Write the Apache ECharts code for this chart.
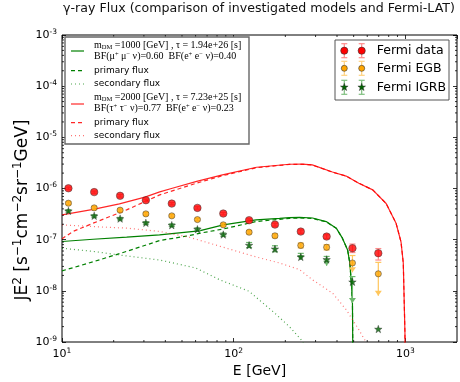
<!DOCTYPE html>
<html>
<head>
<meta charset="utf-8">
<script src="https://cdn.jsdelivr.net/npm/echarts@6/dist/echarts.min.js"></script>
<style>
  html, body { margin: 0; padding: 0; background: #fff; }
  #chart { width: 460px; height: 382px; }
</style>
</head>
<body>
<div id="chart"></div>
<script>
// Fermi-LAT measurements (E in GeV, E^2 J in s^-1 cm^-2 sr^-1 GeV)
const energy = [10.9, 15.4, 21.8, 30.8, 43.6, 61.5, 87, 123, 174, 246, 348, 492, 696];

const fermiData   = [1.01e-6, 8.5e-7, 7.2e-7, 5.9e-7, 5.07e-7, 4.18e-7, 3.24e-7, 2.4e-7, 1.97e-7, 1.44e-7, 1.15e-7, 6.8e-8, 5.44e-8];
const fermiDataHi = [1.06e-6, 8.9e-7, 7.6e-7, 6.2e-7, 5.3e-7, 4.4e-7, 3.4e-7, 2.55e-7, 2.1e-7, 1.55e-7, 1.25e-7, 8.2e-8, 6.7e-8];
const fermiDataLo = [9.6e-7, 8.1e-7, 6.8e-7, 5.6e-7, 4.8e-7, 3.95e-7, 3.05e-7, 2.25e-7, 1.84e-7, 1.33e-7, 1.05e-7, 5.6e-8, 4.0e-8];

const egb      = [5.16e-7, 4.18e-7, 3.77e-7, 3.19e-7, 2.92e-7, 2.47e-7, 1.95e-7, 1.4e-7, 1.19e-7, 7.7e-8, 7.1e-8, 3.5e-8, 2.15e-8];
const egbHi    = [5.5e-7, 4.45e-7, 4.0e-7, 3.4e-7, 3.1e-7, 2.62e-7, 2.08e-7, 1.5e-7, 1.3e-7, 8.6e-8, 8.0e-8, 4.9e-8, 3.6e-8];
const egbLo    = [4.85e-7, 3.92e-7, 3.55e-7, 3.0e-7, 2.75e-7, 2.33e-7, 1.83e-7, 1.3e-7, 1.09e-7, 6.9e-8, 6.3e-8, 2.3e-8, 8.0e-9];
const egbLimit = [0, 0, 0, 0, 0, 0, 0, 0, 0, 0, 0, 1, 1];

const igrb      = [3.65e-7, 2.92e-7, 2.58e-7, 2.13e-7, 1.92e-7, 1.6e-7, 1.26e-7, 7.8e-8, 6.6e-8, 4.6e-8, 4.1e-8, 1.5e-8, 1.79e-9];
const igrbHi    = [3.85e-7, 3.08e-7, 2.72e-7, 2.25e-7, 2.03e-7, 1.7e-7, 1.35e-7, 8.8e-8, 7.6e-8, 5.4e-8, 4.7e-8, 1.9e-8, 1.79e-9];
const igrbLo    = [3.45e-7, 2.76e-7, 2.44e-7, 2.01e-7, 1.81e-7, 1.5e-7, 1.17e-7, 7.0e-8, 5.8e-8, 4.0e-8, 3.1e-8, 5.8e-9, 1.79e-9];
const igrbLimit = [0, 0, 0, 0, 0, 0, 0, 0, 0, 1, 1, 1, 0];

// model 1: m_DM = 1000 GeV, mu+ mu- nu / e+ e- nu
const muE       = [10, 15.2, 23.8, 37, 55, 63, 87, 135, 185, 211, 242, 288, 346, 396, 430, 461, 475, 485, 492, 494, 496];
const muTotal   = [9.2e-8, 1.02e-7, 1.12e-7, 1.24e-7, 1.42e-7, 1.48e-7, 1.95e-7, 2.44e-7, 2.6e-7, 2.7e-7, 2.72e-7, 2.65e-7, 2.26e-7, 1.68e-7, 1.07e-7, 6.3e-8, 3.5e-8, 1.4e-8, 5.8e-9, 1e-9, 1e-11];
const muPrimary = [2.45e-8, 3.7e-8, 5.9e-8, 9.6e-8, 1.2e-7, 1.33e-7, 1.62e-7, 2.26e-7, 2.5e-7, 2.6e-7, 2.66e-7, 2.6e-7, 2.23e-7, 1.67e-7, 1.07e-7, 6.3e-8, 3.5e-8, 1.4e-8, 5.8e-9, 1e-9, 1e-11];
const muSecE      = [10, 15.2, 21.7, 37.1, 60, 83, 123, 173, 211, 242, 254, 262];
const muSecondary = [6.8e-8, 5.9e-8, 5.0e-8, 4.0e-8, 2.8e-8, 1.64e-8, 9.8e-9, 3.7e-9, 2.0e-9, 1.2e-9, 1e-9, 1e-11];

// model 2: m_DM = 2000 GeV, tau+ tau- nu / e+ e- nu
const tauE      = [10, 15.2, 21.6, 30.4, 37.1, 43.4, 60.9, 86, 136, 211, 251, 287, 376, 452, 536, 646, 773, 883, 944, 973, 995, 1000];
const tauTotal  = [3.05e-7, 3.9e-7, 5.0e-7, 6.8e-7, 8.6e-7, 1.0e-6, 1.38e-6, 1.85e-6, 2.6e-6, 2.98e-6, 3.0e-6, 2.9e-6, 2.1e-6, 1.75e-6, 1.27e-6, 9.4e-7, 5.1e-7, 2.1e-7, 9.0e-8, 3.5e-8, 1.5e-9, 1e-11];
const tauPrimE  = [10, 11.6, 15.2, 23.8, 37.1, 60.7, 86, 136, 211, 251, 287, 376, 452, 536, 646, 773, 883, 944, 973, 995, 1000];
const tauPrimary = [1.04e-7, 1.45e-7, 2.1e-7, 3.82e-7, 7.5e-7, 1.27e-6, 1.78e-6, 2.55e-6, 2.95e-6, 2.97e-6, 2.88e-6, 2.09e-6, 1.75e-6, 1.27e-6, 9.4e-7, 5.1e-7, 2.1e-7, 9.0e-8, 3.5e-8, 1.5e-9, 1e-11];
const tauSecE      = [10, 15.2, 23.8, 37, 55, 87, 135, 185, 242, 288, 377, 452, 536, 590, 620];
const tauSecondary = [1.95e-7, 1.8e-7, 1.68e-7, 1.45e-7, 1.12e-7, 7.1e-8, 4.6e-8, 3.5e-8, 2.6e-8, 1.64e-8, 9.0e-9, 4.3e-9, 1.74e-9, 1.0e-9, 1e-10];

// minor tick positions (log axes)
const xMinorTicks = [20, 30, 40, 50, 60, 70, 80, 90, 200, 300, 400, 500, 600, 700, 800, 900];
const yMinorTicks = [];
for (let e = -9; e < -3; e++) for (let k = 2; k <= 9; k++) yMinorTicks.push(k * Math.pow(10, e));

const X_MIN = 10, X_MAX = 2000, Y_MIN = 1e-9, Y_MAX = 1e-3;

const chart = echarts.init(document.getElementById('chart'));

const SANS = 'DejaVu Sans';
const SERIF = 'Liberation Serif';
const STAR = 'path://M0,-10 L2.35,-3.24 L9.51,-3.09 L3.8,1.24 L5.88,8.09 L0,4 L-5.88,8.09 L-3.8,1.24 L-9.51,-3.09 L-2.35,-3.24Z';

const pairs = (xs, ys) => xs.map((x, i) => [x, ys[i]]);

function powLabel(v) {
    const lg = Math.log10(v);
    const ex = Math.round(lg);
    if (Math.abs(lg - ex) > 1e-6) return '';
    return '{b|10}{s|' + ex + '}';
}
const powRich = {
    b: { fontSize: 11, fontFamily: SANS, color: '#000', lineHeight: 14 },
    s: { fontSize: 7.5, fontFamily: SANS, color: '#000', lineHeight: 8, verticalAlign: 'top' }
};

function errorBars(color) {
    return function (params, api) {
        const x = api.value(0);
        const lo = api.value(1), hi = api.value(2), lim = api.value(3);
        if (lo === hi) return null;
        const pLo = api.coord([x, lo]);
        const pHi = api.coord([x, hi]);
        const cx = pLo[0];
        const st = { stroke: color, lineWidth: 1.2 };
        const kids = [
            { type: 'line', shape: { x1: cx, y1: pHi[1], x2: cx, y2: pLo[1] }, style: st },
            { type: 'line', shape: { x1: cx - 3, y1: pHi[1], x2: cx + 3, y2: pHi[1] }, style: st }
        ];
        if (lim) {
            kids.push({ type: 'polygon', shape: { points: [[cx - 3.5, pLo[1] - 5], [cx + 3.5, pLo[1] - 5], [cx, pLo[1]]] }, style: { fill: color } });
        } else {
            kids.push({ type: 'line', shape: { x1: cx - 3, y1: pLo[1], x2: cx + 3, y2: pLo[1] }, style: st });
        }
        return { type: 'group', children: kids };
    };
}

function minorX(params, api) {
    const cs = params.coordSys;
    const x = api.coord([api.value(0), 1e-6])[0];
    const b = cs.y + cs.height, t = cs.y;
    const st = { stroke: '#000', lineWidth: 0.8 };
    return { type: 'group', children: [
        { type: 'line', shape: { x1: x, y1: b, x2: x, y2: b - 2 }, style: st },
        { type: 'line', shape: { x1: x, y1: t, x2: x, y2: t + 2 }, style: st }
    ] };
}
function minorY(params, api) {
    const cs = params.coordSys;
    const y = api.coord([100, api.value(1)])[1];
    const l = cs.x, r = cs.x + cs.width;
    const st = { stroke: '#000', lineWidth: 0.8 };
    return { type: 'group', children: [
        { type: 'line', shape: { x1: l, y1: y, x2: l + 2, y2: y }, style: st },
        { type: 'line', shape: { x1: r, y1: y, x2: r - 2, y2: y }, style: st }
    ] };
}

function curve(name, xs, ys, color, type, opacity) {
    return {
        name: name, type: 'line', data: pairs(xs, ys), showSymbol: false, symbol: 'none',
        lineStyle: { color: color, width: 1.2, type: type, opacity: opacity },
        z: 2, silent: true, clip: true
    };
}

function logAxis(pos, min, max, labels) {
    return {
        type: 'log', logBase: 10, position: pos, min: min, max: max, interval: 1,
        axisLine: { show: false },
        axisTick: { show: true, inside: true, length: 4, lineStyle: { color: '#000', width: 0.8 } },
        minorTick: { show: false },
        splitLine: { show: false },
        axisLabel: labels ? { show: true, formatter: powLabel, rich: powRich, margin: 5, showMaxLabel: false } : { show: false }
    };
}

// legend helpers (graphic)
const legendLine = (x, y, color, dash, opacity) => ({
    type: 'line', shape: { x1: x, y1: y, x2: x + 13, y2: y },
    style: { stroke: color, lineWidth: 1.2, lineDash: dash, opacity: opacity }
});
const mathRich = {
    n: { fontFamily: SERIF, fontSize: 10, color: '#000', lineHeight: 11 },
    sb: { fontFamily: SERIF, fontSize: 6.5, color: '#000', lineHeight: 6, verticalAlign: 'bottom' },
    sp: { fontFamily: SERIF, fontSize: 6.5, color: '#000', lineHeight: 6, verticalAlign: 'top' }
};
const legendText = (x, y, txt, size, font) => ({
    type: 'text', x: x, y: y,
    style: { text: txt, fontFamily: font || SANS, fontSize: size, fill: '#000', verticalAlign: 'middle', align: 'left' }
});
function starPoints(cx, cy, r) {
    const pts = [];
    for (let i = 0; i < 10; i++) {
        const a = -Math.PI / 2 + i * Math.PI / 5;
        const rr = i % 2 === 0 ? r : r * 0.4;
        pts.push([cx + rr * Math.cos(a), cy + rr * Math.sin(a)]);
    }
    return pts;
}
function errMarker(cx, cy, barColor, kind) {
    const st = { stroke: barColor, lineWidth: 1.2 };
    const items = [
        { type: 'line', shape: { x1: cx, y1: cy - 7, x2: cx, y2: cy + 7 }, style: st },
        { type: 'line', shape: { x1: cx - 3, y1: cy - 7, x2: cx + 3, y2: cy - 7 }, style: st },
        { type: 'line', shape: { x1: cx - 3, y1: cy + 7, x2: cx + 3, y2: cy + 7 }, style: st }
    ];
    if (kind === 'data') items.push({ type: 'circle', shape: { cx: cx, cy: cy, r: 3.6 }, style: { fill: '#ff0000', stroke: '#333', lineWidth: 0.6 } });
    if (kind === 'egb') items.push({ type: 'circle', shape: { cx: cx, cy: cy, r: 3 }, style: { fill: '#ffa500', stroke: '#333', lineWidth: 0.6 } });
    if (kind === 'igrb') items.push({ type: 'polygon', shape: { points: starPoints(cx, cy, 4) }, style: { fill: '#006400', stroke: '#333', lineWidth: 0.5 } });
    return items;
}

const graphics = [
    { type: 'rect', shape: { x: 65, y: 37, width: 184, height: 107 }, style: { fill: '#fff', stroke: '#666', lineWidth: 1.4 } },
    legendLine(71, 51, '#008000', null, 1),
    legendLine(71, 70.7, '#008000', [4, 3], 1),
    legendLine(71, 84, '#008000', [1, 3], 0.7),
    legendLine(71, 104, '#ff0000', null, 0.85),
    legendLine(71, 122.7, '#ff0000', [4, 3], 0.85),
    legendLine(71, 135.7, '#ff0000', [1, 3], 0.55),
    { type: 'text', x: 94, y: 51, style: {
        text: '{n|m}{sb|DM}{n| =1000 [GeV] , τ = 1.94e+26 [s]}\n{n|BF(μ}{sp|+}{n| μ}{sp|−}{n| ν)=0.60  BF(e}{sp|+}{n| e}{sp|−}{n| ν)=0.40}',
        rich: mathRich, verticalAlign: 'middle', align: 'left' } },
    legendText(94, 70.7, 'primary flux', 9),
    legendText(94, 84, 'secondary flux', 9),
    { type: 'text', x: 94, y: 103, style: {
        text: '{n|m}{sb|DM}{n| =2000 [GeV] , τ = 7.23e+25 [s]}\n{n|BF(τ}{sp|+}{n| τ}{sp|−}{n| ν)=0.77  BF(e}{sp|+}{n| e}{sp|−}{n| ν)=0.23}',
        rich: mathRich, verticalAlign: 'middle', align: 'left' } },
    legendText(94, 122.7, 'primary flux', 9),
    legendText(94, 135.7, 'secondary flux', 9),

    { type: 'rect', shape: { x: 335, y: 40, width: 114, height: 60 }, style: { fill: '#fff', stroke: '#555', lineWidth: 1 } },
    ...errMarker(344.3, 50.7, '#ff8c8c', 'data'),
    ...errMarker(361.7, 50.7, '#ff8c8c', 'data'),
    ...errMarker(344.3, 68.3, '#ffd27f', 'egb'),
    ...errMarker(361.7, 68.3, '#ffd27f', 'egb'),
    ...errMarker(344.3, 87.3, '#7fbf7f', 'igrb'),
    ...errMarker(361.7, 87.3, '#7fbf7f', 'igrb'),
    legendText(376.7, 50.7, 'Fermi data', 12.5),
    legendText(376.7, 68.3, 'Fermi EGB', 12.5),
    legendText(376.7, 87.3, 'Fermi IGRB', 12.5),

    // y axis title
    { type: 'text', x: 23, y: 210, rotation: Math.PI / 2, style: {
        text: '{b|JE}{s|2}{b| [s}{s|−1}{b|cm}{s|−2}{b|sr}{s|−1}{b|GeV]}',
        align: 'center', verticalAlign: 'middle',
        rich: {
            b: { fontFamily: SANS, fontSize: 17, fill: '#000', lineHeight: 22 },
            s: { fontFamily: SANS, fontSize: 12, fill: '#000', lineHeight: 12, verticalAlign: 'top' }
        } } }
].map(g => Object.assign({}, g, { z: g.type === 'rect' ? 99 : 100 }));

const option = {
    animation: false,
    backgroundColor: '#fff',
    title: {
        text: 'γ-ray Flux (comparison of investigated models and Fermi-LAT)',
        left: 259, top: 2, textAlign: 'center', padding: 0,
        textStyle: { fontFamily: SANS, fontSize: 12.6, fontWeight: 'normal', color: '#111' }
    },
    grid: {
        left: 62, top: 35, right: 3, bottom: 40,
        containLabel: false, outerBoundsMode: 'none',
        show: true, borderColor: '#000', borderWidth: 1, backgroundColor: 'transparent'
    },
    xAxis: [
        Object.assign(logAxis('bottom', X_MIN, X_MAX, true), {
            name: 'E [GeV]', nameLocation: 'middle', nameGap: 16,
            nameTextStyle: { fontFamily: SANS, fontSize: 14, color: '#000' }
        }),
        logAxis('top', X_MIN, X_MAX, false)
    ],
    yAxis: [
        logAxis('left', Y_MIN, Y_MAX, true),
        logAxis('right', Y_MIN, Y_MAX, false)
    ],
    graphic: graphics,
    series: [
        curve('m1000 total', muE, muTotal, '#008000', 'solid', 1),
        curve('m1000 primary', muE, muPrimary, '#008000', [4, 3], 1),
        curve('m1000 secondary', muSecE, muSecondary, '#008000', [1, 3], 0.7),
        curve('m2000 total', tauE, tauTotal, '#ff0000', 'solid', 0.85),
        curve('m2000 primary', tauPrimE, tauPrimary, '#ff0000', [4, 3], 0.85),
        curve('m2000 secondary', tauSecE, tauSecondary, '#ff0000', [1, 3], 0.55),

        { type: 'custom', renderItem: errorBars('#ff8c8c'), data: energy.map((e, i) => [e, fermiDataLo[i], fermiDataHi[i], 0]), z: 3, silent: true },
        { type: 'custom', renderItem: errorBars('#ffc65c'), data: energy.map((e, i) => [e, egbLo[i], egbHi[i], egbLimit[i]]), z: 3, silent: true },
        { type: 'custom', renderItem: errorBars('#6cb86c'), data: energy.map((e, i) => [e, igrbLo[i], igrbHi[i], igrbLimit[i]]), z: 3, silent: true },

        { name: 'Fermi data', type: 'scatter', data: pairs(energy, fermiData), symbol: 'circle', symbolSize: 7.5,
          itemStyle: { color: '#ff0000', borderColor: '#333', borderWidth: 0.6 }, z: 4, silent: true },
        { name: 'Fermi EGB', type: 'scatter', data: pairs(energy, egb), symbol: 'circle', symbolSize: 6.2,
          itemStyle: { color: '#ffa500', borderColor: '#333', borderWidth: 0.6 }, z: 4, silent: true },
        { name: 'Fermi IGRB', type: 'scatter', data: pairs(energy, igrb), symbol: STAR, symbolSize: 7.5,
          itemStyle: { color: '#006400', borderColor: '#333', borderWidth: 0.5 }, z: 4, silent: true },

        { type: 'custom', renderItem: minorX, data: xMinorTicks.map(v => [v, 1e-6]), z: 5, silent: true, clip: false },
        { type: 'custom', renderItem: minorY, data: yMinorTicks.map(v => [100, v]), z: 5, silent: true, clip: false }
    ]
};

chart.setOption(option);
</script>
</body>
</html>
